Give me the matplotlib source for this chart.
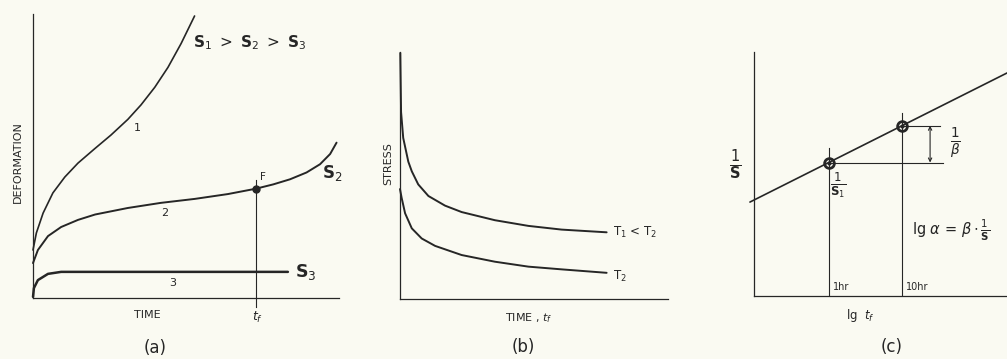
"""Creep curves: deformation vs time, stress vs time to failure, 1/S vs lg t_f"""
import matplotlib.pyplot as plt

BG = '#fafaf2'
INK = '#262626'

# (a) deformation curves, arbitrary units 0-10
c1_x = [0, 0.11, 0.33, 0.65, 1.04, 1.47, 2.02, 2.55, 3.10, 3.53, 3.98, 4.41, 4.84, 5.28]
c1_y = [1.69, 2.29, 2.99, 3.70, 4.26, 4.75, 5.26, 5.74, 6.29, 6.80, 7.42, 8.12, 8.96, 9.93]
c2_x = [0, 0.16, 0.49, 0.92, 1.47, 2.03, 3.10, 4.18, 5.29, 6.37, 7.29, 7.85, 8.40, 8.94,
        9.38, 9.71, 9.92]
c2_y = [1.23, 1.69, 2.18, 2.50, 2.75, 2.94, 3.17, 3.35, 3.49, 3.66, 3.85, 4.00, 4.18, 4.42,
        4.71, 5.07, 5.47]
c3_x = [0, 0.03, 0.16, 0.49, 0.92, 8.33]
c3_y = [0.04, 0.35, 0.63, 0.85, 0.92, 0.92]
t_fail = 7.29
y_fail = 3.85

# (b) stress vs time
t1_x = [0.01, 0.04, 0.12, 0.31, 0.44, 0.68, 1.06, 1.68, 2.30, 3.54, 4.79, 6.03, 7.71]
t1_y = [9.96, 7.57, 6.52, 5.56, 5.17, 4.64, 4.17, 3.78, 3.52, 3.19, 2.96, 2.81, 2.70]
t2_x = [0.0, 0.06, 0.19, 0.44, 0.81, 1.31, 2.30, 3.54, 4.79, 6.03, 7.71]
t2_y = [4.45, 4.10, 3.47, 2.86, 2.45, 2.15, 1.78, 1.51, 1.31, 1.20, 1.06]

# (c) straight line 1/S vs lg t_f
line_x = [-0.16, 10]
line_y = [3.85, 9.14]
pts_x = [2.96, 5.85]
pts_y = [5.47, 6.98]
pt_labels = ['1hr', '10hr']

W, H = 1007, 359
fig = plt.figure(figsize=(W / 100, H / 100), dpi=100)
fig.patch.set_facecolor(BG)


def make_axes(left, bottom, right, top):
    ax = fig.add_axes([left / W, 1 - bottom / H, (right - left) / W, (bottom - top) / H])
    ax.set_xlim(0, 10)
    ax.set_ylim(0, 10)
    ax.set_facecolor('none')
    for s in ['top', 'right']:
        ax.spines[s].set_visible(False)
    for s in ['left', 'bottom']:
        ax.spines[s].set_color(INK)
        ax.spines[s].set_linewidth(0.9)
    ax.set_xticks([])
    ax.set_yticks([])
    return ax


txt = dict(color=INK, family='DejaVu Sans')
crv = dict(color=INK, solid_joinstyle='round', solid_capstyle='round', clip_on=False)

# ---- (a)
ax1 = make_axes(33, 298, 339, 14)
ax1.plot(c1_x, c1_y, lw=1.2, **crv)
ax1.plot(c2_x, c2_y, lw=1.4, **crv)
ax1.plot(c3_x, c3_y, lw=1.8, **crv)
ax1.plot([t_fail, t_fail], [4.15, -0.32], color=INK, lw=0.8, clip_on=False)
ax1.plot([t_fail], [y_fail], 'o', color=INK, ms=5, clip_on=False)
ax1.text(3.40, 5.99, '1', fontsize=8, ha='center', va='center', **txt)
ax1.text(4.30, 2.98, '2', fontsize=8, ha='center', va='center', **txt)
ax1.text(4.58, 0.53, '3', fontsize=8, ha='center', va='center', **txt)
ax1.text(5.23, 8.98, r'$\mathbf{S}_1\ >\ \mathbf{S}_2\ >\ \mathbf{S}_3$', fontsize=11,
         ha='left', va='center', **txt)
ax1.text(7.42, 4.27, 'F', fontsize=7.5, ha='left', va='center', **txt)
ax1.text(9.44, 4.40, r'$\mathbf{S}_2$', fontsize=12, ha='left', va='center', **txt)
ax1.text(8.56, 0.92, r'$\mathbf{S}_3$', fontsize=12.5, ha='left', va='center', **txt)
ax1.text(3.73, -0.60, 'TIME', fontsize=8, ha='center', va='center', **txt)
ax1.text(7.35, -0.70, r'$t_f$', fontsize=9, ha='center', va='center', **txt)
ax1.text(3.99, -1.76, '(a)', fontsize=12, ha='center', va='center', **txt)
ax1.text(-0.49, 4.79, 'DEFORMATION', fontsize=8, rotation=90, ha='center', va='center', **txt)

# ---- (b)
ax2 = make_axes(400, 299, 668, 52)
ax2.plot(t1_x, t1_y, lw=1.4, **crv)
ax2.plot(t2_x, t2_y, lw=1.4, **crv)
ax2.text(-0.45, 5.47, 'STRESS', fontsize=8, rotation=90, ha='center', va='center', **txt)
ax2.text(7.95, 2.71, r'T$_1$ < T$_2$', fontsize=8.5, ha='left', va='center', **txt)
ax2.text(7.95, 0.93, r'T$_2$', fontsize=8.5, ha='left', va='center', **txt)
ax2.text(4.81, -0.77, r'TIME , $t_f$', fontsize=8, ha='center', va='center', **txt)
ax2.text(4.59, -1.94, '(b)', fontsize=12, ha='center', va='center', **txt)

# ---- (c)
ax3 = make_axes(754, 296, 1007, 52)
ax3.plot(line_x, line_y, lw=1.2, **crv)
ax3.plot([pts_x[0]] * 2, [0, pts_y[0] + 0.6], color=INK, lw=0.8)
ax3.plot([pts_x[1]] * 2, [0, pts_y[1] + 0.5], color=INK, lw=0.8)
ax3.plot([pts_x[0], 7.47], [pts_y[0]] * 2, color=INK, lw=0.8)
ax3.plot([pts_x[1], 7.35], [pts_y[1]] * 2, color=INK, lw=0.8)
ax3.annotate('', xy=(6.96, pts_y[1]), xytext=(6.96, pts_y[0]),
             arrowprops=dict(arrowstyle='<->', color=INK, lw=0.8, shrinkA=0, shrinkB=0,
                             mutation_scale=6))
ax3.plot(pts_x, pts_y, 'o', ms=7, mfc='none', mec=INK, mew=2, clip_on=False)
ax3.plot(pts_x, pts_y, 'o', ms=2, color=INK, clip_on=False)
for x, lab in zip(pts_x, pt_labels):
    ax3.text(x + 0.15, 0.37, lab, fontsize=7, ha='left', va='center', **txt)
ax3.text(-0.75, 5.37, r'$\frac{1}{\mathbf{S}}$', fontsize=15, ha='center', va='center', **txt)
ax3.text(3.32, 4.55, r'$\frac{1}{\mathbf{S}_1}$', fontsize=12, ha='center', va='center', **txt)
ax3.text(7.94, 6.27, r'$\frac{1}{\beta}$', fontsize=14, ha='center', va='center', **txt)
ax3.text(6.25, 2.70, r'lg $\alpha$ = $\beta\cdot\frac{1}{\mathbf{S}}$', fontsize=10.5,
         ha='left', va='center', **txt)
ax3.text(4.19, -0.78, r'lg  $t_f$', fontsize=8.5, ha='center', va='center', **txt)
ax3.text(5.45, -2.09, '(c)', fontsize=12, ha='center', va='center', **txt)

plt.savefig('out.png', dpi=100, facecolor=BG)
plt.close()
